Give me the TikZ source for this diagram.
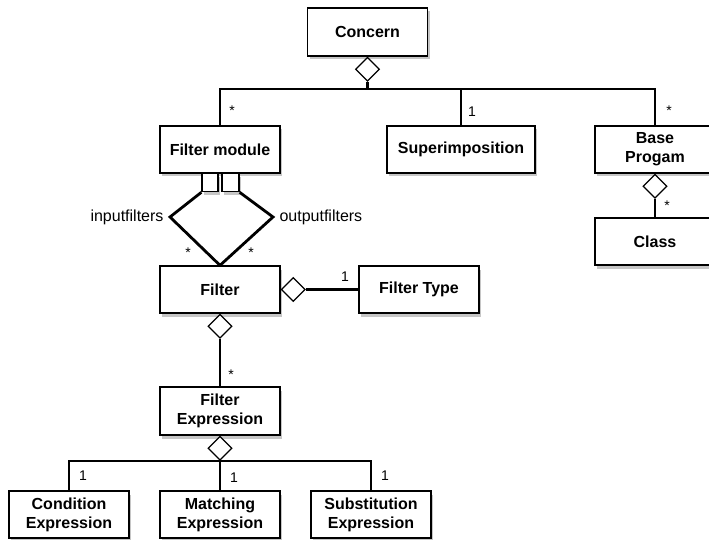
\documentclass[tikz,border=0pt]{standalone}
\usepackage{fontspec}
\setmainfont{Liberation Sans}
\usetikzlibrary{shapes.geometric, shadows}

\begin{document}
\begin{tikzpicture}[x=1pt, y=-1pt, every node/.style={font=\fontsize{16}{19}\selectfont}]
            % Styles
            \tikzstyle{classbox} = [rectangle, draw=black, line width=1.3pt, fill=white, minimum width=120pt, minimum height=47pt, align=center, font=\fontsize{16}{19}\selectfont\bfseries, drop shadow={shadow xshift=2pt, shadow yshift=-3.5pt, opacity=0.45}]
            \tikzstyle{agg} = [diamond, draw=black, line width=1.3pt, fill=white, minimum width=24pt, minimum height=24pt, inner sep=0pt]
            \tikzstyle{slot} = [rectangle, draw=black, line width=1.3pt, fill=white, minimum width=16pt, minimum height=18pt, inner sep=0pt, drop shadow={shadow xshift=2pt, shadow yshift=-3.5pt, opacity=0.45}]
            \tikzstyle{conn} = [line width=2.8pt]
            \tikzstyle{mult} = [font=\fontsize{14}{16}\selectfont, inner sep=0pt]

            \useasboundingbox (0,0) rectangle (709,540);

            % Nodes: classes
            \node[classbox, minimum height=48pt] (Concern) at (367.5,32) {Concern};
            \node[classbox] (FilterModule) at (220,149.5) {Filter module};
            \node[classbox, minimum width=148pt] (Superimposition) at (461,149.5) {Superimposition};
            \node[classbox] (BaseProgram) at (655,149.5) {Base\\Progam};
            \node[classbox] (Class) at (655,241.5) {Class};
            \node[classbox] (Filter) at (220,289.5) {Filter};
            \node[classbox] (FilterType) at (419,289.5) {Filter Type};
            \node[classbox, minimum height=48pt] (FilterExpr) at (220,411) {Filter\\Expression};
            \node[classbox] (CondExpr) at (69,514.5) {Condition\\Expression};
            \node[classbox] (MatchExpr) at (220,514.5) {Matching\\Expression};
            \node[classbox] (SubstExpr) at (371,514.5) {Substitution\\Expression};

            % Nodes: aggregation diamonds and slots
            \node[agg, anchor=north] (aggConcern) at (Concern.south) {};
            \node[agg, anchor=north] (aggBase) at (BaseProgram.south) {};
            \node[agg, anchor=west] (aggFilterR) at (Filter.east) {};
            \node[agg, anchor=north] (aggFilterB) at (Filter.south) {};
            \node[agg, anchor=north] (aggExpr) at (FilterExpr.south) {};
            \node[slot, anchor=north] (slotIn) at (210,173) {};
            \node[slot, anchor=north, minimum width=17pt] (slotOut) at (230.5,173) {};

            % Bends
            \coordinate (barTop) at (367.5,89);
            \coordinate (barBot) at (220,461);
            \coordinate (cornerIn) at (170,217);
            \coordinate (cornerOut) at (273,217);

            % Concern parts
            \draw[conn] (aggConcern.south) -- (barTop) -| (FilterModule.north);
            \draw[conn] (barTop) -| (Superimposition.north);
            \draw[conn] (barTop) -| (BaseProgram.north);
            \draw[conn] (aggBase.south) -- (Class.north);

            % Filter module to filters
            \draw[conn, line join=miter] (slotIn.south west) -- (cornerIn) -- (Filter.north);
            \draw[conn, line join=miter] (slotOut.south east) -- (cornerOut) -- (Filter.north);
            \draw[conn] (aggFilterR.east) -- (FilterType.west);
            \draw[conn] (aggFilterB.south) -- (FilterExpr.north);

            % Expression parts
            \draw[conn] (aggExpr.south) -- (barBot) -| (CondExpr.north);
            \draw[conn] (barBot) -- (MatchExpr.north);
            \draw[conn] (barBot) -| (SubstExpr.north);

            % Labels
            \node[anchor=east] (lblIn) at (167,217) {inputfilters};
            \node[anchor=west] (lblOut) at (276,217) {outputfilters};
            \node[mult] (mFM) at (232,111) {*};
            \node[mult] (mSup) at (472,112) {1};
            \node[mult] (mBase) at (669,111) {*};
            \node[mult] (mClass) at (667,206) {*};
            \node[mult] (mIn) at (188,253) {*};
            \node[mult] (mOut) at (251,253) {*};
            \node[mult] (mType) at (345,277) {1};
            \node[mult] (mExpr) at (231,375) {*};
            \node[mult] (mCond) at (83,476) {1};
            \node[mult] (mMatch) at (234,478) {1};
            \node[mult] (mSubst) at (385,476) {1};
        \end{tikzpicture}
\end{document}
